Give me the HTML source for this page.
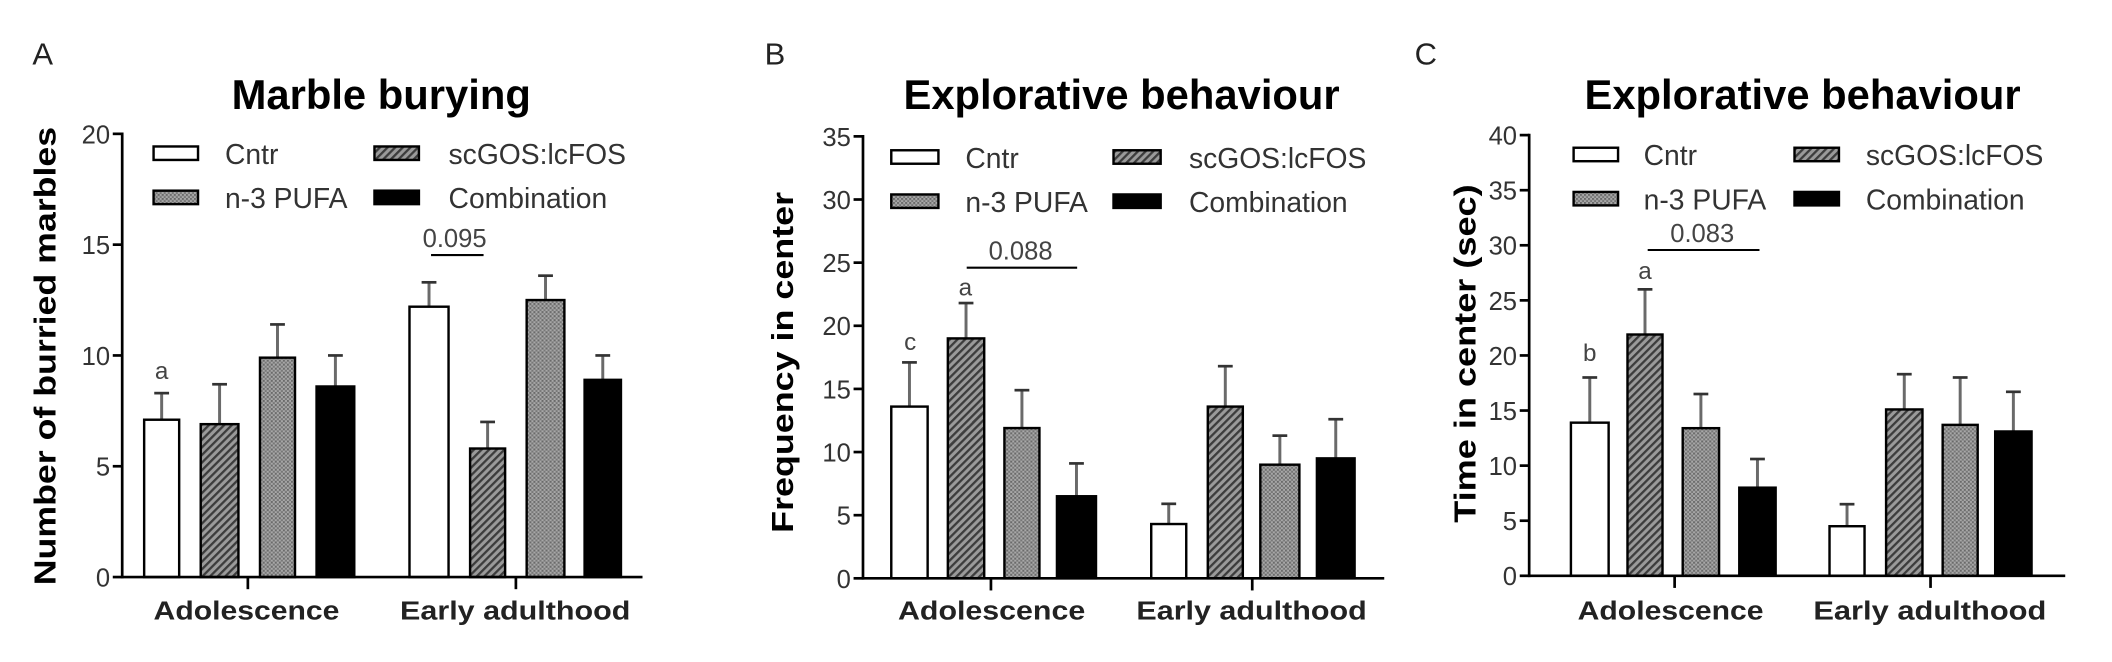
<!DOCTYPE html>
<html><head><meta charset="utf-8">
<style>
html,body{margin:0;padding:0;background:#fff;}
svg{display:block;}
text{font-family:"Liberation Sans",Arial,sans-serif;}
</style></head>
<body>
<svg id="s" width="2112" height="662" viewBox="0 0 1568 491.5" xmlns="http://www.w3.org/2000/svg">
<defs>
<pattern id="diag" patternUnits="userSpaceOnUse" width="4" height="4" patternTransform="rotate(45)">
<rect width="4" height="4" fill="#9a9a9a"/><rect width="1.7" height="4" fill="#3c3c3c"/>
</pattern>
<pattern id="dot" patternUnits="userSpaceOnUse" width="3" height="3">
<rect width="3" height="3" fill="#a8a8a8"/><rect width="1.5" height="1.5" fill="#6a6a6a"/><rect x="1.5" y="1.5" width="1.5" height="1.5" fill="#777"/>
</pattern>
</defs>
</svg>
<script>
var s=document.getElementById('s');var NS='http://www.w3.org/2000/svg';var F=0.9375;
function el(t,a,txt){var e=document.createElementNS(NS,t);for(var k in a)e.setAttribute(k,a[k]);if(txt!==undefined)e.textContent=txt;s.appendChild(e);return e;}
var fills=['#fff','url(#diag)','url(#dot)','#000'];
function panel(c){
 var o=c.off, ax=o+c.ax, y0=c.y0*F, yT=c.yT*F, sc=(y0-yT)/c.max;
 function Y(v){return y0-v*sc;}
 el('text',{x:o+c.lx,y:48,'font-size':23,fill:'#222'},c.letter);
 el('text',{x:o+c.tx,y:81,'font-size':31,'font-weight':'bold','text-anchor':'middle',fill:'#000'},c.title);
 el('text',{x:0,y:0,'font-size':23,'font-weight':'bold','text-anchor':'middle',fill:'#000',transform:'translate('+(o+c.ylx)+','+(c.yly*F)+') rotate(-90)',textLength:c.ylen*F,lengthAdjust:'spacingAndGlyphs'},c.ylabel);
 c.bars.forEach(function(b,i){
  var x0=o+b[0],x1=o+b[1],cx=(x0+x1)/2;
  el('line',{x1:cx,y1:Y(b[2]),x2:cx,y2:Y(b[3]),stroke:'#6a6a6a','stroke-width':2.2});
  el('line',{x1:cx-5.5,y1:Y(b[3]),x2:cx+5.5,y2:Y(b[3]),stroke:'#333','stroke-width':2});
  el('rect',{x:x0,y:Y(b[2]),width:x1-x0,height:y0-Y(b[2]),fill:fills[i%4],stroke:'#000','stroke-width':1.8});
 });
 el('line',{x1:ax,y1:yT-1,x2:ax,y2:y0+1,stroke:'#000','stroke-width':2});
 el('line',{x1:ax,y1:y0,x2:o+c.xe,y2:y0,stroke:'#000','stroke-width':2});
 for(var v=0;v<=c.max;v+=c.step){
  el('line',{x1:ax-7,y1:Y(v),x2:ax,y2:Y(v),stroke:'#000','stroke-width':2});
  el('text',{x:ax-9,y:Y(v)+7,'font-size':19,'text-anchor':'end',fill:'#333'},String(v));
 }
 c.ct.forEach(function(t){el('line',{x1:o+t,y1:y0,x2:o+t,y2:y0+9,stroke:'#000','stroke-width':2});});
 el('text',{x:o+c.cat[0][0],y:460,'font-size':19,'font-weight':'bold',fill:'#222',textLength:c.cat[0][1]-c.cat[0][0],lengthAdjust:'spacingAndGlyphs'},'Adolescence');
 el('text',{x:o+c.cat[1][0],y:460,'font-size':19,'font-weight':'bold',fill:'#222',textLength:c.cat[1][1]-c.cat[1][0],lengthAdjust:'spacingAndGlyphs'},'Early adulthood');
 var L=c.leg, names=[['Cntr','#fff'],['n-3 PUFA','url(#dot)'],['scGOS:lcFOS','url(#diag)'],['Combination','#000']];
 names.forEach(function(n,i){
  var col=i>>1,row=i&1;
  var sx=o+L.sx[col], sy=L.ry[row]*F;
  el('rect',{x:sx,y:sy,width:L.sw,height:10,fill:n[1],stroke:'#000','stroke-width':1.8});
  el('text',{x:o+L.tx[col],y:sy+13,'font-size':21,fill:'#333'},n[0]);
 });
 c.lets.forEach(function(l){el('text',{x:o+l[0],y:l[1]*F,'font-size':18,'text-anchor':'middle',fill:'#444'},l[2]);});
 var g=c.sig;
 el('line',{x1:o+g[0],y1:g[2]*F,x2:o+g[1],y2:g[2]*F,stroke:'#000','stroke-width':1.5});
 el('text',{x:o+(g[0]+g[1])/2+g[4],y:g[2]*F-6,'font-size':19,'text-anchor':'middle',fill:'#444'},g[3]);
}
panel({off:0,ax:90.7,y0:457,yT:106,max:20,step:5,xe:477,letter:'A',lx:24,title:'Marble burying',tx:283,
 ylabel:'Number of burried marbles',ylx:41,yly:282,ylen:363,
 bars:[[107,133,7.1,8.3],[149,177,6.9,8.7],[193,219,9.9,11.4],[235,263,8.6,10.0],[304,333,12.2,13.3],[349,375,5.8,7.0],[391,419,12.5,13.6],[434,461,8.9,10.0]],
 ct:[184,383],cat:[[114,252],[297,468]],
 leg:{sx:[114,278],ry:[116,151],sw:33,tx:[167,333]},
 lets:[[120,300,'a']],sig:[320,359,202,'0.095',-2]});
panel({off:522.7,ax:118,y0:458,yT:108,max:35,step:5,xe:505,letter:'B',lx:45,title:'Explorative behaviour',tx:310,
 ylabel:'Frequency in center',ylx:66,yly:287,ylen:270,
 bars:[[139,166,13.6,17.1],[181,208,19.0,21.8],[223,249,11.9,14.9],[262,291,6.5,9.1],[332,358,4.3,5.9],[374,400,13.6,16.8],[413,442,9.0,11.3],[455,483,9.5,12.6]],
 ct:[213,407],cat:[[144,283],[321,492]],
 leg:{sx:[139,304],ry:[119,154],sw:35,tx:[194,360]},
 lets:[[153,277,'c'],[194,234,'a']],sig:[195,277,212,'0.088',-1]});
panel({off:1045.3,ax:90,y0:456,yT:107,max:40,step:5,xe:488,letter:'C',lx:5,title:'Explorative behaviour',tx:293,
 ylabel:'Time in center (sec)',ylx:50,yly:280,ylen:268,
 bars:[[121,149,13.9,18.0],[163,189,21.9,26.0],[204,231,13.4,16.5],[246,273,8.0,10.6],[313,339,4.5,6.5],[355,382,15.1,18.3],[397,423,13.7,18.0],[436,463,13.1,16.7]],
 ct:[198,388],cat:[[126,264],[301,474]],
 leg:{sx:[123,287],ry:[117,152],sw:33,tx:[175,340]},
 lets:[[135,286,'b'],[176,221,'a']],sig:[178,261,198,'0.083',-1]});
</script>
</body></html>
